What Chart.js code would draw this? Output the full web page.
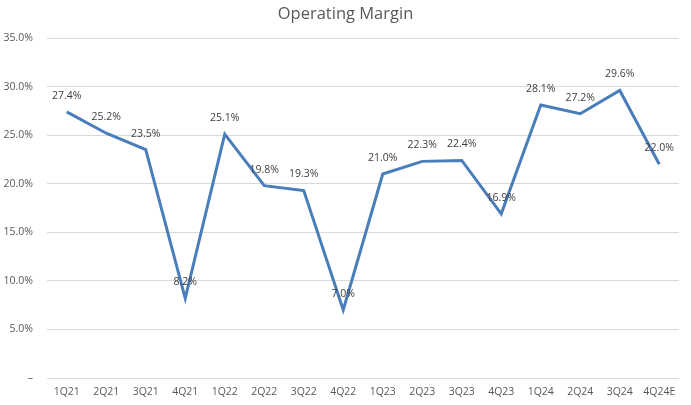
<!DOCTYPE html>
<html>
<head>
<meta charset="utf-8">
<script src="https://cdn.jsdelivr.net/npm/chart.js@4/dist/chart.umd.min.js"></script>
<style>
html,body{margin:0;padding:0;background:#fff;}
#wrap{width:691px;height:405px;position:relative;}
</style>
</head>
<body>
<div id="wrap"><canvas id="c"></canvas></div>
<script>
const categories = ["1Q21","2Q21","3Q21","4Q21","1Q22","2Q22","3Q22","4Q22","1Q23","2Q23","3Q23","4Q23","1Q24","2Q24","3Q24","4Q24E"];
const operatingMargin = [27.4,25.2,23.5,8.2,25.1,19.8,19.3,7.0,21.0,22.3,22.4,16.9,28.1,27.2,29.6,22.0];
const yTicks = [0,5,10,15,20,25,30,35];
const chartTitle = "Operating Margin";

const FONT = "'Open Sans', 'Liberation Sans', sans-serif";

const labelPlugin = {
  id: 'pointLabels',
  afterDatasetsDraw(chart) {
    const ctx = chart.ctx;
    const meta = chart.getDatasetMeta(0);
    ctx.save();
    ctx.font = "10.5px " + FONT;
    ctx.fillStyle = "#404040";
    ctx.textAlign = "center";
    ctx.textBaseline = "middle";
    meta.data.forEach((pt, i) => {
      ctx.fillText(operatingMargin[i].toFixed(1) + "%", pt.x, pt.y - 16);
    });
    ctx.restore();
  }
};

const titlePlugin = {
  id: 'customTitle',
  afterDraw(chart) {
    const ctx = chart.ctx;
    ctx.save();
    ctx.font = "16.5px " + FONT;
    ctx.fillStyle = "#595959";
    ctx.textAlign = "center";
    ctx.textBaseline = "middle";
    ctx.fillText(chartTitle, chart.width / 2, 14);
    ctx.restore();
  }
};

new Chart(document.getElementById('c'), {
  type: 'line',
  data: {
    labels: categories,
    datasets: [{
      data: operatingMargin,
      borderColor: '#4a7ebb',
      borderWidth: 3,
      pointRadius: 0,
      tension: 0,
      fill: false
    }]
  },
  options: {
    responsive: true,
    maintainAspectRatio: false,
    animation: false,
    layout: { padding: { top: 38, right: 12, left: 0, bottom: 0 } },
    plugins: { legend: { display: false }, tooltip: { enabled: false }, title: { display: false } },
    scales: {
      x: {
        offset: true,
        grid: { display: false, drawTicks: false },
        border: { display: false },
        ticks: { color: '#595959', font: { family: FONT, size: 10.5 }, padding: 8, maxRotation: 0, autoSkip: false },
        afterFit(s) { s.height = 27; }
      },
      y: {
        min: 0, max: 35,
        afterBuildTicks(s) { s.ticks = yTicks.map(v => ({ value: v })); },
        grid: { color: '#d9d9d9', lineWidth: 1, drawTicks: false },
        border: { display: false },
        ticks: {
          color: '#595959', font: { family: FONT, size: 10.5 }, padding: 14,
          callback: v => v === 0 ? '–' : v.toFixed(1) + '%'
        },
        afterFit(s) { s.width = 47; }
      }
    }
  },
  plugins: [labelPlugin, titlePlugin]
});
</script>
</body>
</html>
